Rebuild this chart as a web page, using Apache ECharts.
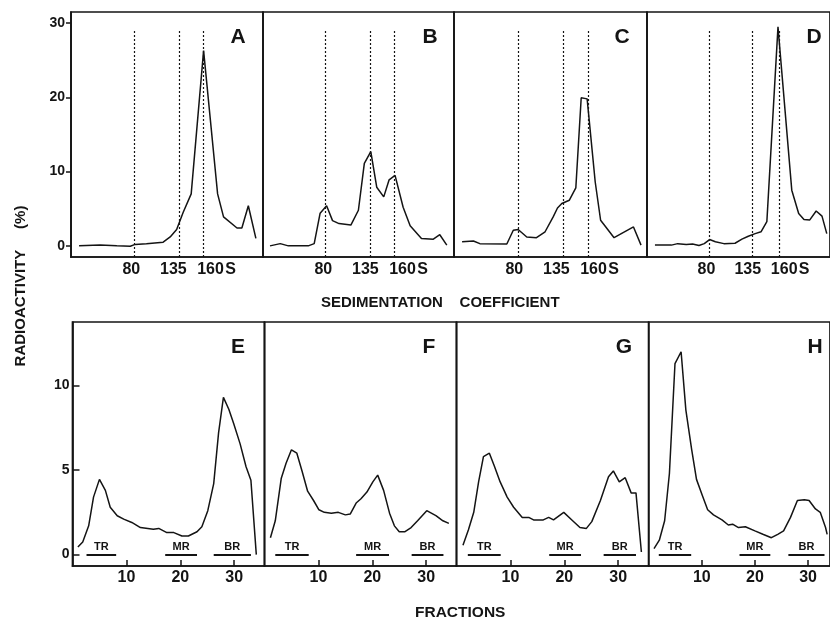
<!DOCTYPE html>
<html><head><meta charset="utf-8">
<script src="https://cdn.jsdelivr.net/npm/echarts@6/dist/echarts.min.js"></script>
<style>html,body{margin:0;padding:0;background:#fff}#c{width:830px;height:619px}</style>
</head><body><div id="c"></div>
<script>
// ---------- DATA ----------
const panelLettersTop = ['A','B','C','D'];
const panelLettersBottom = ['E','F','G','H'];

// [fraction, radioactivity %]
const curveA = [[1.5,0],[5.4,0.1],[8.5,0],[11,-0.05],[11.9,0.2],[14,0.3],[17.1,0.5],[18.4,1.2],[19.6,2.2],[20.8,4.5],[22.3,7.0],[24.6,26.3],[27.2,7.0],[28.3,3.9],[30.8,2.4],[31.7,2.4],[32.9,5.4],[34.3,1.0]];
const curveB = [[1.3,0],[3.2,0.3],[4.7,0],[8.4,0],[9.5,0.3],[10.6,4.4],[11.8,5.4],[12.9,3.4],[14.1,3.0],[16.3,2.8],[17.7,4.8],[18.8,11.1],[20.0,12.7],[21.1,7.9],[22.4,6.6],[23.4,8.9],[24.5,9.5],[26.0,5.2],[27.3,2.7],[29.4,1.0],[31.6,0.9],[32.8,1.5],[34.1,0.1]];
const curveC = [[1.5,0.55],[3.6,0.65],[4.8,0.3],[9.8,0.25],[11.0,2.1],[11.9,2.2],[13.5,1.2],[15.3,1.1],[16.9,1.9],[18.4,3.9],[19.2,5.1],[20.0,5.7],[21.4,6.15],[22.6,7.8],[23.6,19.95],[24.7,19.8],[26.2,8.6],[27.2,3.45],[29.7,1.1],[33.3,2.55],[34.7,0.1]];
const curveD = [[1.5,0.1],[4.6,0.1],[5.8,0.3],[7.4,0.2],[8.6,0.25],[9.8,0.05],[10.8,0.3],[11.8,0.85],[12.9,0.55],[14.5,0.3],[16.6,0.35],[17.9,0.9],[19.1,1.3],[20.4,1.65],[21.5,1.9],[22.6,3.25],[24.7,29.5],[27.3,7.5],[28.6,4.35],[29.6,3.55],[30.7,3.5],[31.9,4.7],[33.0,4.0],[33.9,1.65]];
const curveE = [[1.0,0.45],[1.9,0.75],[3.0,1.7],[3.9,3.4],[5.0,4.45],[6.1,3.8],[7.0,2.8],[8.3,2.3],[9.5,2.1],[11.0,1.9],[12.6,1.6],[15.0,1.5],[16.0,1.55],[17.5,1.3],[18.8,1.3],[20.3,1.1],[21.5,1.1],[23.1,1.35],[24.0,1.65],[25.1,2.6],[26.2,4.2],[27.1,7.2],[28.0,9.3],[29.0,8.6],[29.9,7.75],[31.1,6.55],[32.2,5.2],[33.1,4.4],[34.1,0]];
const curveF = [[1.1,1.0],[2.0,2.0],[3.1,4.5],[4.0,5.4],[5.0,6.2],[6.0,6.0],[7.0,4.9],[8.0,3.75],[9.1,3.2],[10.1,2.65],[11.1,2.5],[12.4,2.45],[13.7,2.5],[15.0,2.35],[15.9,2.4],[17.0,3.05],[17.9,3.3],[19.0,3.7],[20.1,4.3],[21.0,4.7],[22.1,3.8],[23.2,2.45],[24.1,1.7],[25.0,1.35],[26.0,1.35],[27.2,1.6],[28.4,2.0],[30.1,2.6],[31.8,2.3],[33.1,2.0],[34.2,1.85]];
const curveG = [[1.2,0.55],[2.2,1.45],[3.2,2.5],[4.1,4.3],[5.0,5.8],[6.1,6.0],[7.0,5.25],[8.1,4.3],[9.4,3.4],[10.6,2.8],[12.2,2.2],[13.4,2.2],[14.3,2.05],[16.1,2.05],[17.1,2.2],[18.0,2.05],[19.9,2.5],[21.4,2.05],[22.9,1.6],[24.1,1.55],[25.1,1.95],[26.7,3.2],[28.2,4.6],[29.1,4.95],[30.2,4.3],[31.3,4.55],[32.4,3.65],[33.3,3.65],[34.3,0.15]];
const curveH = [[1.0,0.35],[2.0,0.85],[3.0,2.0],[3.9,4.8],[4.95,11.3],[6.1,12.0],[7.0,8.55],[8.1,6.2],[9.0,4.45],[10.1,3.5],[11.1,2.65],[12.2,2.35],[13.8,2.05],[15.0,1.75],[15.8,1.8],[16.9,1.6],[18.2,1.65],[20.0,1.4],[21.5,1.2],[23.1,1.0],[24.3,1.2],[25.4,1.4],[26.7,2.2],[28.0,3.2],[29.3,3.25],[30.2,3.2],[31.4,2.7],[32.3,2.5],[33.3,1.6],[33.6,1.2]];

// sedimentation markers (80S, 135S, 160S) as fraction positions per panel
const markersA = [11.7, 20.0, 24.6];
const markersB = [11.6, 19.9, 24.4];
const markersC = [11.9, 20.3, 24.9];
const markersD = [11.8, 19.9, 24.9];
const markerTop = 29.2;

const sedTickPos = [11.2, 19.0, 27.0];
const sedTickLabels = ['80', '135', '160\u200AS'];
const fracTicks = [10, 20, 30];
const yTicksTop = [0, 10, 20, 30];
const yTicksBottom = [0, 5, 10];

const regionNames = ['TR', 'MR', 'BR'];
const regionsE = [[2.6, 8.1], [17.2, 23.1], [26.2, 33.1]];
const regionsF = [[2.0, 8.2], [17.0, 23.1], [27.3, 33.2]];
const regionsG = [[2.1, 8.2], [17.2, 23.1], [27.3, 33.3]];
const regionsH = [[1.9, 8.0], [17.1, 22.9], [26.3, 33.1]];

// ---------- LAYOUT ----------
const PX = 5.39; // px per fraction
const INK = '#141414';
const FONT = 'Liberation Sans, Arial, sans-serif';
const topGrids = [{left:71,width:192},{left:263,width:191},{left:454,width:193},{left:647,width:186}];
const botGrids = [{left:72.5,width:192},{left:264.5,width:192},{left:456.5,width:192.2},{left:648.7,width:184}];
const topCurves = [curveA, curveB, curveC, curveD];
const topMarkers = [markersA, markersB, markersC, markersD];
const botCurves = [curveE, curveF, curveG, curveH];
const botRegions = [regionsE, regionsF, regionsG, regionsH];
const TOP_Y = {top:12, height:245, min:-1.5, max:31.5};
const BOT_Y = {top:322, height:244, min:-0.675, max:13.76};

const grid = [], xAxis = [], yAxis = [], series = [];
function addPanel(g, rowY, idx, isTop, first) {
  const gi = grid.length;
  grid.push({left:g.left, top:rowY.top, width:g.width, height:rowY.height, show:true,
    borderColor:INK, borderWidth:1.7, backgroundColor:'transparent', containLabel:false});
  xAxis.push({type:'value', gridIndex:gi, min:0, max:g.width/PX,
    axisLine:{show:true, onZero:false, lineStyle:{color:INK, width:1.7}},
    splitLine:{show:false},
    axisTick: isTop ? {show:false} : {show:true, inside:true, length:6, customValues:fracTicks, lineStyle:{color:INK,width:1.5}},
    axisLabel: isTop ? {show:true, customValues:sedTickPos, margin:5,
        formatter:v=>{const i=sedTickPos.indexOf(v); return i>=0?sedTickLabels[i]:'';},
        color:INK, fontFamily:FONT, fontWeight:'bold', fontSize:16}
      : {show:true, customValues:fracTicks, margin:4, color:INK, fontFamily:FONT, fontWeight:'bold', fontSize:16}
  });
  yAxis.push({type:'value', gridIndex:gi, min:rowY.min, max:rowY.max, show:first,
    axisLine:{show:true, lineStyle:{color:INK,width:1.7}},
    splitLine:{show:false},
    axisTick:{show:true, inside:!isTop, length:isTop?5:7, customValues:isTop?yTicksTop:yTicksBottom, lineStyle:{color:INK,width:1.5}},
    axisLabel:{show:true, customValues:isTop?yTicksTop:yTicksBottom, margin:isTop?6:3, color:INK, fontFamily:FONT, fontWeight:'bold', fontSize:14}
  });
  const s = {type:'line', xAxisIndex:gi, yAxisIndex:gi, data:(isTop?topCurves:botCurves)[idx],
    showSymbol:false, symbol:'none', smooth:false, lineStyle:{color:INK, width:1.5}, silent:true, clip:true};
  if (isTop) {
    s.markLine = {silent:true, symbol:['none','none'], animation:false,
      lineStyle:{type:[2,2], color:INK, width:1.2}, label:{show:false},
      data: topMarkers[idx].map(m=>[{coord:[m, rowY.min]},{coord:[m, markerTop]}])};
  } else {
    s.markLine = {silent:true, symbol:['none','none'], animation:false,
      lineStyle:{type:'solid', color:INK, width:2},
      label:{show:true, position:'middle', distance:2, formatter:p=>p.name, color:INK, fontFamily:FONT, fontWeight:'bold', fontSize:11},
      data: botRegions[idx].map((r,k)=>[{coord:[r[0],0], name:regionNames[k]},{coord:[r[1],0]}])};
  }
  series.push(s);
}
topGrids.forEach((g,i)=>addPanel(g, TOP_Y, i, true, i===0));
botGrids.forEach((g,i)=>addPanel(g, BOT_Y, i, false, i===0));

const letterPos = [[238,37],[430,37],[622,37],[814,37],[238,347],[429,347],[624,347],[815,347]];
const letters = panelLettersTop.concat(panelLettersBottom);
const graphic = letters.map((t,i)=>({type:'text', x:letterPos[i][0], y:letterPos[i][1],
  style:{text:t, fill:INK, font:'bold 21px '+FONT, textAlign:'center', textVerticalAlign:'middle'}}));
graphic.push({type:'text', x:321, y:303, style:{text:'SEDIMENTATION    COEFFICIENT', fill:INK, font:'bold 15px '+FONT, textAlign:'left', textVerticalAlign:'middle'}});
graphic.push({type:'text', x:415, y:613, style:{text:'FRACTIONS', fill:INK, font:'bold 15.5px '+FONT, textAlign:'left', textVerticalAlign:'middle'}});
graphic.push({type:'text', x:21, y:286, rotation:Math.PI/2, style:{text:'RADIOACTIVITY     (%)', fill:INK, font:'bold 15px '+FONT, textAlign:'center', textVerticalAlign:'middle'}});

const chart = echarts.init(document.getElementById('c'), null, {renderer:'canvas'});
chart.setOption({animation:false, backgroundColor:'#fff', grid, xAxis, yAxis, series, graphic});
</script></body></html>
